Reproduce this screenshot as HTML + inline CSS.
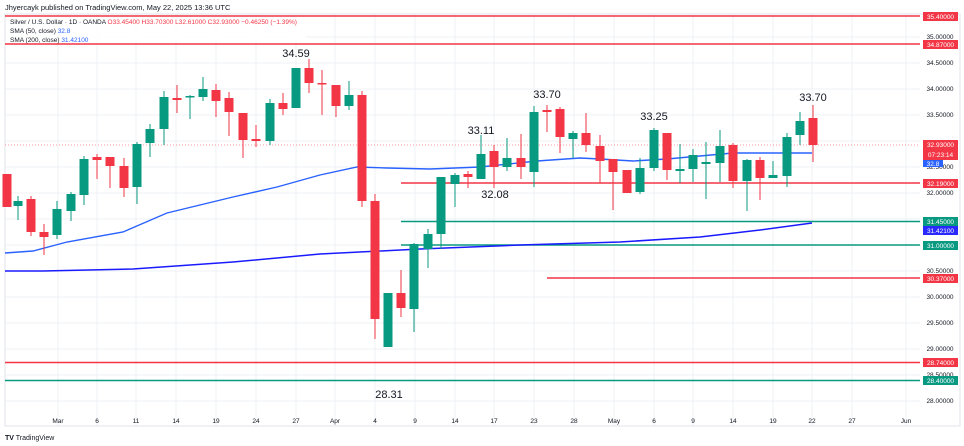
<!DOCTYPE html>
<html><head><meta charset="utf-8"><style>
html,body{margin:0;padding:0;background:#fff;}
svg{display:block;font-family:"Liberation Sans",sans-serif;}
</style></head><body>
<svg width="964" height="446" viewBox="0 0 964 446" xmlns="http://www.w3.org/2000/svg">
<rect width="964" height="446" fill="#fff"/>
<text x="5" y="10" font-size="7.5" fill="#131722">Jhyercayk published on TradingView.com, May 22, 2025 13:36 UTC</text>
<g stroke="#eef0f4" stroke-width="1">
<line x1="5" x2="920" y1="37" y2="37"/><line x1="5" x2="920" y1="63" y2="63"/><line x1="5" x2="920" y1="89" y2="89"/><line x1="5" x2="920" y1="115" y2="115"/><line x1="5" x2="920" y1="141" y2="141"/><line x1="5" x2="920" y1="167" y2="167"/><line x1="5" x2="920" y1="193" y2="193"/><line x1="5" x2="920" y1="219" y2="219"/><line x1="5" x2="920" y1="245" y2="245"/><line x1="5" x2="920" y1="271" y2="271"/><line x1="5" x2="920" y1="297" y2="297"/><line x1="5" x2="920" y1="323" y2="323"/><line x1="5" x2="920" y1="349" y2="349"/><line x1="5" x2="920" y1="375" y2="375"/><line x1="5" x2="920" y1="401" y2="401"/>
<line x1="58" x2="58" y1="14" y2="426"/><line x1="97" x2="97" y1="14" y2="426"/><line x1="136" x2="136" y1="14" y2="426"/><line x1="176" x2="176" y1="14" y2="426"/><line x1="216" x2="216" y1="14" y2="426"/><line x1="256" x2="256" y1="14" y2="426"/><line x1="296" x2="296" y1="14" y2="426"/><line x1="335" x2="335" y1="14" y2="426"/><line x1="375" x2="375" y1="14" y2="426"/><line x1="415" x2="415" y1="14" y2="426"/><line x1="455" x2="455" y1="14" y2="426"/><line x1="494" x2="494" y1="14" y2="426"/><line x1="534" x2="534" y1="14" y2="426"/><line x1="574" x2="574" y1="14" y2="426"/><line x1="614" x2="614" y1="14" y2="426"/><line x1="654" x2="654" y1="14" y2="426"/><line x1="693" x2="693" y1="14" y2="426"/><line x1="733" x2="733" y1="14" y2="426"/><line x1="773" x2="773" y1="14" y2="426"/><line x1="812" x2="812" y1="14" y2="426"/><line x1="852" x2="852" y1="14" y2="426"/><line x1="906" x2="906" y1="14" y2="426"/>
</g>
<rect x="5" y="14" width="955" height="412" fill="none" stroke="#e0e3eb"/>
<line x1="5" x2="920" y1="145" y2="145" stroke="#f23645" stroke-width="0.6" stroke-dasharray="1,2"/>
<rect x="6" y="17.5" width="300" height="25" fill="#fff" opacity="0.9"/>
<g stroke-width="1.5">
<line x1="5" x2="920" y1="16" y2="16" stroke="#f23645"/>
<line x1="5" x2="920" y1="44" y2="44" stroke="#f23645"/>
<line x1="401" x2="920" y1="183" y2="183" stroke="#f23645"/>
<line x1="401" x2="920" y1="221.5" y2="221.5" stroke="#089981"/>
<line x1="401" x2="920" y1="245" y2="245" stroke="#089981"/>
<line x1="547" x2="920" y1="278" y2="278" stroke="#f23645"/>
<line x1="5" x2="920" y1="362.5" y2="362.5" stroke="#f23645"/>
<line x1="5" x2="920" y1="380.5" y2="380.5" stroke="#089981"/>
</g>
<polyline fill="none" stroke="#2962ff" stroke-width="1.4" points="5,253 33,251 67,242 123,232 167,213 233,197 277,187 320,175 357,167 387,168 430,169 480,167 537,161 580,158 600,159 633,161 667,159 733,153 780,153 812,153"/>
<polyline fill="none" stroke="#1a1aff" stroke-width="1.5" points="5,271 43,271 133,269 233,262 320,254 420,249 520,245 620,242 700,237 760,230 812,223"/>
<g id="c"></g>
<g font-size="11" fill="#131722" text-anchor="middle">
<text x="296" y="57">34.59</text><text x="547" y="98">33.70</text><text x="481" y="134">33.11</text><text x="495" y="198">32.08</text><text x="654" y="120">33.25</text><text x="813" y="101">33.70</text><text x="389" y="398">28.31</text>
</g>
<g font-size="6.5">
<text x="10" y="24" fill="#131722">Silver / U.S. Dollar · 1D · OANDA <tspan fill="#f23645">O33.45400 H33.70300 L32.61000 C32.93000 −0.46250 (−1.39%)</tspan></text>
<text x="10" y="33" fill="#131722">SMA (50, close) <tspan fill="#2962ff">32.8</tspan></text>
<text x="10" y="42" fill="#131722">SMA (200, close) <tspan fill="#2962ff">31.42100</tspan></text>
</g>
<g font-size="6.5" fill="#131722" text-anchor="middle">
<text x="940" y="39">35.00000</text><text x="940" y="65">34.50000</text><text x="940" y="91">34.00000</text><text x="940" y="117">33.50000</text><text x="940" y="169">32.50000</text><text x="940" y="195">32.00000</text><text x="940" y="273">30.50000</text><text x="940" y="299">30.00000</text><text x="940" y="325">29.50000</text><text x="940" y="351">29.00000</text><text x="940" y="377">28.50000</text><text x="940" y="403">28.00000</text>
</g>
<g font-size="6.5" fill="#fff" text-anchor="middle">
<rect x="923" y="12" width="35" height="9" fill="#f23645"/><text x="940.5" y="19">35.40000</text>
<rect x="923" y="40" width="35" height="9" fill="#f23645"/><text x="940.5" y="47">34.87000</text>
<rect x="923" y="140" width="35" height="20" fill="#f23645"/><text x="940.5" y="147">32.93000</text><text x="940.5" y="157">07:23:14</text>
<rect x="923" y="160" width="20" height="7" fill="#2962ff"/><text x="933" y="166">32.8</text>
<rect x="923" y="179" width="35" height="9" fill="#f23645"/><text x="940.5" y="186">32.19000</text>
<rect x="923" y="217" width="35" height="9" fill="#089981"/><text x="940.5" y="224">31.45000</text>
<rect x="923" y="226" width="35" height="9" fill="#2a2aff"/><text x="940.5" y="233">31.42100</text>
<rect x="923" y="241" width="35" height="9" fill="#089981"/><text x="940.5" y="248">31.00000</text>
<rect x="923" y="274" width="35" height="9" fill="#f23645"/><text x="940.5" y="281">30.37000</text>
<rect x="923" y="358" width="35" height="9" fill="#f23645"/><text x="940.5" y="365">28.74000</text>
<rect x="923" y="376" width="35" height="9" fill="#089981"/><text x="940.5" y="383">28.40000</text>
</g>
<g font-size="6.5" fill="#131722" text-anchor="middle">
<text x="58" y="423">Mar</text><text x="97" y="423">6</text><text x="136" y="423">11</text><text x="176" y="423">14</text><text x="216" y="423">19</text><text x="256" y="423">24</text><text x="296" y="423">27</text><text x="335" y="423">Apr</text><text x="375" y="423">4</text><text x="415" y="423">9</text><text x="455" y="423">14</text><text x="494" y="423">17</text><text x="534" y="423">23</text><text x="574" y="423">28</text><text x="614" y="423">May</text><text x="654" y="423">6</text><text x="693" y="423">9</text><text x="733" y="423">14</text><text x="773" y="423">19</text><text x="812" y="423">22</text><text x="852" y="423">27</text><text x="906" y="423">Jun</text>
</g>
<text x="5" y="440" font-size="7" fill="#131722"><tspan font-weight="bold">TV</tspan> TradingView</text>
</svg>
<script>
var d=[[7,'r',174,207,174,207],[18,'g',201,206,196,220],[31,'r',199,232,196,236],[44,'r',232,237,224,255],[57,'g',209,235,201,239],[71,'g',194,211,192,221],[84,'g',159,195,156,205],[97,'r',157,160,154,179],[110,'r',157,166,157,188],[124,'r',166,188,158,197],[137,'g',144,187,142,204],[150,'g',129,143,124,157],[164,'g',97,129,91,145],[177,'r',98,100,85,113],[190,'g',96,97,95,119],[203,'g',89,97,77,101],[216,'r',90,101,84,117],[229,'r',98,112,92,136],[243,'r',113,140,113,158],[256,'r',139,141,125,147],[270,'g',103,141,99,145],[283,'r',103,109,93,115],[296,'g',68,108,68,108],[309,'r',68,83,59,93],[322,'r',83,84,70,115],[336,'r',85,106,85,117],[349,'g',95,106,81,110],[362,'r',95,201,91,207],[375,'r',201,319,194,339],[388,'g',293,347,293,347],[401,'r',293,308,270,317],[414,'g',244,309,243,332],[428,'g',234,249,229,268],[441,'g',177,234,177,249],[455,'g',175,184,173,207],[468,'r',174,177,171,188],[481,'g',154,179,135,179],[494,'r',151,167,145,188],[507,'g',158,167,138,171],[521,'r',158,167,134,179],[534,'g',112,172,106,187],[547,'r',110,112,105,132],[560,'r',109,137,107,153],[573,'g',133,139,131,158],[586,'r',133,145,113,152],[600,'r',146,161,135,183],[613,'r',159,172,159,210],[627,'r',170,193,170,193],[640,'g',168,192,158,194],[654,'g',130,168,128,171],[667,'r',133,170,133,180],[680,'g',169,171,144,183],[693,'g',155,169,149,182],[706,'g',162,164,142,199],[720,'g',146,163,130,182],[733,'r',145,181,143,188],[747,'g',160,181,159,211],[760,'r',160,178,157,200],[773,'g',175,178,161,178],[787,'g',137,176,133,187],[800,'g',121,135,112,145],[813,'r',118,145,105,162]];
var s='';d.forEach(function(c){var col=c[1]=='r'?'#f23645':'#089981';s+='<line x1="'+c[0]+'" x2="'+c[0]+'" y1="'+c[4]+'" y2="'+c[5]+'" stroke="'+col+'" stroke-width="1"/>';s+='<rect x="'+(c[0]-4.5)+'" y="'+c[2]+'" width="9" height="'+Math.max(1.5,c[3]-c[2])+'" fill="'+col+'"/>';});
document.getElementById('c').innerHTML=s;
</script>
</body></html>
